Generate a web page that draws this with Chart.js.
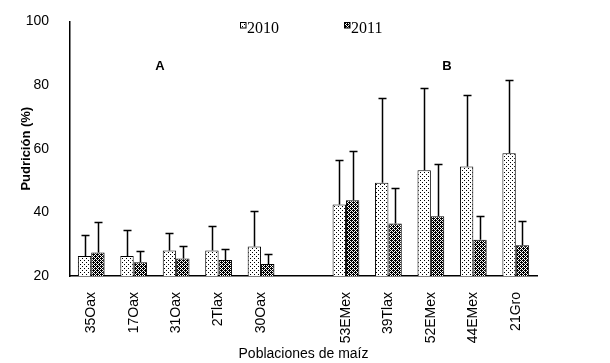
<!DOCTYPE html>
<html>
<head>
<meta charset="utf-8">
<script src="https://cdn.jsdelivr.net/npm/chart.js@4/dist/chart.umd.min.js"></script>
<style>
  html, body { margin: 0; padding: 0; background: #fff; }
  #wrap { width: 610px; height: 363px; }
</style>
</head>
<body>
<div id="wrap"><canvas id="c" width="610" height="363"></canvas></div>
<script>
// data
const poblaciones = ['35Oax', '17Oax', '31Oax', '2Tlax', '30Oax', '', '53EMex', '39Tlax', '52EMex', '44EMex', '21Gro'];
const pud2010 = [26.3, 26.3, 28.0, 28.0, 29.3, null, 42.5, 49.3, 53.2, 54.4, 58.6];
const pud2011 = [27.4, 24.3, 25.5, 25.0, 23.8, null, 43.8, 36.5, 38.8, 31.4, 29.7];
const de2010 = [6.5, 8.1, 5.6, 7.7, 11.0, null, 13.8, 26.5, 25.9, 22.6, 23.0];
const de2011 = [9.6, 3.7, 3.8, 3.5, 3.0, null, 15.6, 11.1, 16.5, 7.4, 7.7];
const yTicks = [20, 40, 60, 80, 100];
const grupos = [{ txt: 'A', at: 1.62 }, { txt: 'B', at: 8.38 }];

const SANS = 'Arial, "Liberation Sans", sans-serif';
const SERIF = '"Times New Roman", "Liberation Serif", serif';

// fill patterns
function makePattern(size, isDark) {
  const cv = document.createElement('canvas');
  cv.width = size; cv.height = size;
  const g = cv.getContext('2d');
  g.fillStyle = '#fff';
  g.fillRect(0, 0, size, size);
  g.fillStyle = '#000';
  for (let y = 0; y < size; y++) {
    for (let x = 0; x < size; x++) {
      if (isDark(x, y)) g.fillRect(x, y, 1, 1);
    }
  }
  return g.createPattern(cv, 'repeat');
}
const ctx = document.getElementById('c').getContext('2d');
const dots = makePattern(4, (x, y) => (x === 0 && y === 0) || (x === 2 && y === 2));
const checks = makePattern(4, (x, y) => (x + y) % 2 === 0 || (x === 1 && y === 2) || (x === 3 && y === 0));

const errores = [de2010, de2011];

const extras = {
  id: 'extras',
  afterDatasetsDraw(chart) {
    const c = chart.ctx;
    const ys = chart.scales.y;
    c.save();
    c.strokeStyle = '#000';
    c.lineWidth = 1.5;
    chart.data.datasets.forEach((ds, di) => {
      const meta = chart.getDatasetMeta(di);
      meta.data.forEach((bar, i) => {
        const v = ds.data[i], e = errores[di][i];
        if (v == null || e == null) return;
        const yt = Math.round(ys.getPixelForValue(v + e)) + 0.5;
        const x = Math.round(bar.x) + 0.5;
        c.beginPath();
        c.moveTo(x, bar.y);
        c.lineTo(x, yt);
        c.moveTo(x - 4, yt);
        c.lineTo(x + 4, yt);
        c.stroke();
      });
    });
    // group letters
    c.fillStyle = '#000';
    c.font = 'bold 13px ' + SANS;
    c.textAlign = 'center';
    c.textBaseline = 'middle';
    grupos.forEach(g => {
      c.fillText(g.txt, chart.scales.x.getPixelForValue(g.at), 66);
    });
    // legend
    const pos = [240, 344];
    c.font = '16px ' + SERIF;
    c.textAlign = 'left';
    c.textBaseline = 'alphabetic';
    c.lineWidth = 1;
    chart.data.datasets.forEach((ds, di) => {
      const x0 = pos[di];
      c.fillStyle = ds.backgroundColor;
      c.fillRect(x0, 22, 6, 6);
      c.strokeRect(x0 + 0.5, 22.5, 5.5, 5.5);
      c.fillStyle = '#000';
      c.fillText(ds.label, x0 + 7, 33);
    });
    c.restore();
  }
};

new Chart(ctx, {
  type: 'bar',
  data: {
    labels: poblaciones,
    datasets: [
      { label: '2010', data: pud2010, backgroundColor: dots, borderColor: '#000', borderWidth: 1 },
      { label: '2011', data: pud2011, backgroundColor: checks, borderColor: '#000', borderWidth: 1 }
    ]
  },
  options: {
    responsive: false,
    animation: false,
    devicePixelRatio: 1,
    layout: { padding: { top: 15, right: 73, left: 0, bottom: 0 } },
    datasets: { bar: { categoryPercentage: 0.63, barPercentage: 1 } },
    plugins: { legend: { display: false }, tooltip: { enabled: false } },
    scales: {
      x: {
        grid: { display: false },
        border: { display: true, color: '#000', width: 1.5 },
        ticks: { color: '#000', font: { family: SANS, size: 14 }, minRotation: 90, maxRotation: 90, autoSkip: false, padding: 8 },
        title: { display: true, text: 'Poblaciones de maíz', color: '#000', font: { family: SANS, size: 14 }, padding: { top: 4, bottom: 0 } },
        afterFit(s) { s.height = 87; }
      },
      y: {
        min: 20, max: 100,
        afterBuildTicks(s) { s.ticks = yTicks.map(v => ({ value: v })); },
        grid: { display: false },
        border: { display: true, color: '#000', width: 1.5 },
        ticks: { color: '#000', font: { family: SANS, size: 14 }, padding: 13 },
        title: { display: true, text: 'Pudrición (%)', color: '#000', font: { family: SANS, size: 13, weight: 'bold' }, padding: { top: 19, bottom: 0 } },
        afterFit(s) { s.width = 70; }
      }
    }
  },
  plugins: [extras]
});
</script>
</body>
</html>
